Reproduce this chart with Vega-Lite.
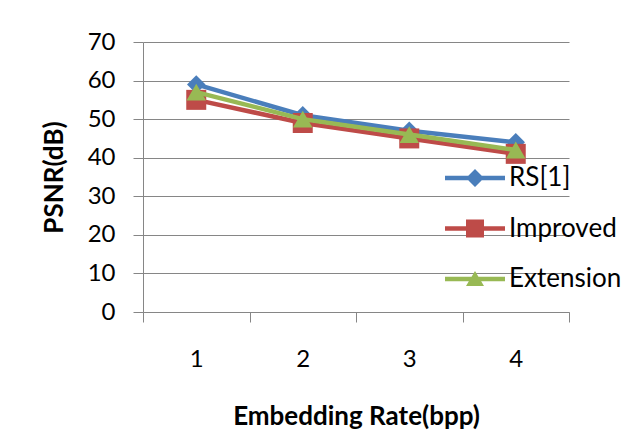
{
  "$schema": "https://vega.github.io/schema/vega-lite/v6.json",
  "width": 426,
  "height": 270,
  "autosize": {"type": "none"},
  "padding": {"left": 143, "top": 42, "right": 75, "bottom": 127},
  "background": "white",
  "data": {
    "values": [
      {"rate": 1, "series": "RS[1]", "psnr": 59},
      {"rate": 2, "series": "RS[1]", "psnr": 51},
      {"rate": 3, "series": "RS[1]", "psnr": 47},
      {"rate": 4, "series": "RS[1]", "psnr": 44},
      {"rate": 1, "series": "Improved", "psnr": 55},
      {"rate": 2, "series": "Improved", "psnr": 49},
      {"rate": 3, "series": "Improved", "psnr": 45},
      {"rate": 4, "series": "Improved", "psnr": 41},
      {"rate": 1, "series": "Extension", "psnr": 57},
      {"rate": 2, "series": "Extension", "psnr": 50},
      {"rate": 3, "series": "Extension", "psnr": 46},
      {"rate": 4, "series": "Extension", "psnr": 42}
    ]
  },
  "config": {
    "view": {"stroke": null},
    "font": "Lato",
    "axis": {
      "labelFont": "Lato",
      "labelFontSize": 24,
      "labelColor": "#000000",
      "titleFont": "Lato",
      "titleFontSize": 26,
      "titleFontWeight": "bold",
      "titleColor": "#000000",
      "domainColor": "#868686",
      "tickColor": "#868686",
      "gridColor": "#868686",
      "domainWidth": 1,
      "tickWidth": 1,
      "gridWidth": 1,
      "tickSize": 10
    }
  },
  "encoding": {
    "x": {
      "field": "rate",
      "type": "ordinal",
      "scale": {"type": "band", "paddingInner": 0, "paddingOuter": 0},
      "axis": {
        "title": "Embedding Rate(bpp)",
        "labelAngle": 0,
        "tickBand": "extent",
        "grid": false,
        "labelPadding": 25,
        "titlePadding": 32
      }
    },
    "y": {
      "field": "psnr",
      "type": "quantitative",
      "scale": {"domain": [0, 70], "nice": false},
      "axis": {
        "title": "PSNR(dB)",
        "values": [0, 10, 20, 30, 40, 50, 60, 70],
        "grid": true,
        "labelPadding": 18,
        "titlePadding": 20
      }
    },
    "color": {
      "field": "series",
      "type": "nominal",
      "scale": {
        "domain": ["RS[1]", "Improved", "Extension"],
        "range": ["#4A7EBB", "#BE4B48", "#98B954"]
      },
      "legend": {
        "title": null,
        "orient": "none",
        "legendX": 302,
        "legendY": 106,
        "padding": 0,
        "labelFont": "Lato",
        "labelFontSize": 26,
        "labelColor": "#000000",
        "labelOffset": 4,
        "symbolSize": 3600,
        "rowPadding": 7.5,
        "symbolStrokeWidth": 0,
        "encode": {
          "symbols": {
            "update": {
              "fill": {"scale": "color", "field": "value"},
              "shape": {"scale": "shape", "field": "value"},
              "strokeWidth": {"value": 0},
              "opacity": {"value": 1},
              "size": {"value": 3600}
            }
          }
        }
      }
    }
  },
  "layer": [
    {
      "transform": [{"filter": "false"}],
      "mark": {"type": "point", "filled": true},
      "encoding": {
        "shape": {
          "field": "series",
          "type": "nominal",
          "scale": {
            "domain": ["RS[1]", "Improved", "Extension"],
            "range": [
              "M-1,-0.075H1V0.075H-1Z M0,-0.3L0.3,0L0,0.3L-0.3,0Z",
              "M-1,-0.075H1V0.075H-1Z M-0.3,-0.3H0.3V0.3H-0.3Z",
              "M-1,-0.075H1V0.075H-1Z M0,-0.27L0.3,0.23H-0.3Z"
            ]
          }
        }
      }
    },
    {
      "transform": [{"filter": "datum.series === 'RS[1]'"}],
      "mark": {"type": "line", "strokeWidth": 4.5, "strokeJoin": "round", "strokeCap": "round"}
    },
    {
      "transform": [{"filter": "datum.series === 'RS[1]'"}],
      "mark": {"type": "point", "shape": "diamond", "filled": true, "size": 340, "opacity": 1}
    },
    {
      "transform": [{"filter": "datum.series === 'Improved'"}],
      "mark": {"type": "line", "strokeWidth": 4.5, "strokeJoin": "round", "strokeCap": "round"}
    },
    {
      "transform": [{"filter": "datum.series === 'Improved'"}],
      "mark": {"type": "point", "shape": "square", "filled": true, "size": 400, "opacity": 1}
    },
    {
      "transform": [{"filter": "datum.series === 'Extension'"}],
      "mark": {"type": "line", "strokeWidth": 4.5, "strokeJoin": "round", "strokeCap": "round"}
    },
    {
      "transform": [{"filter": "datum.series === 'Extension'"}],
      "mark": {"type": "point", "shape": "triangle-up", "filled": true, "size": 380, "opacity": 1}
    }
  ]
}
